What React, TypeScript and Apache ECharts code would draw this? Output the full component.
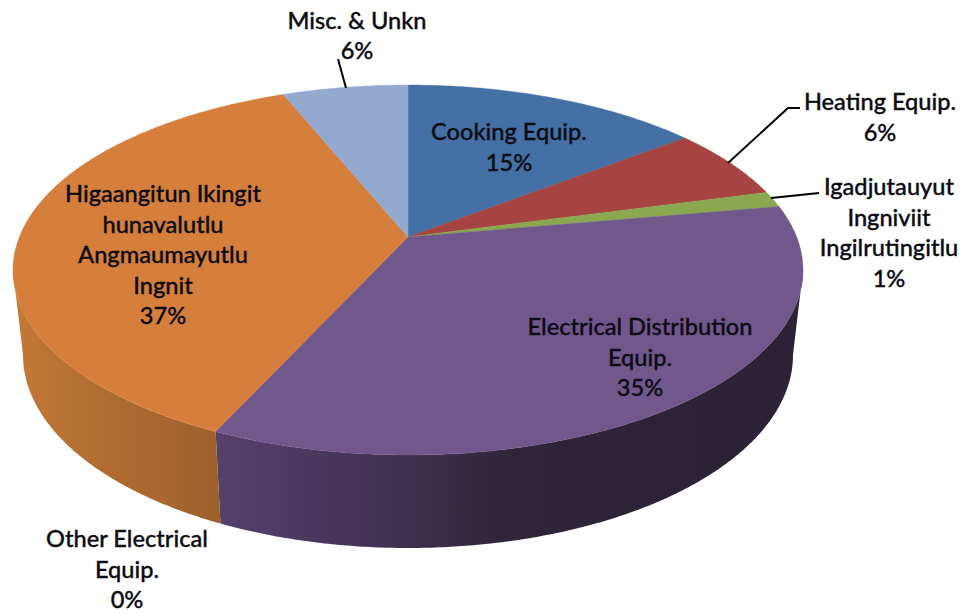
import React, { useEffect, useRef } from "react";
import * as echarts from "echarts";

const sliceNames = [
  "Cooking Equip.",
  "Heating Equip.",
  "Igadjutauyut\nIngniviit\nIngilrutingitlu",
  "Electrical Distribution\nEquip.",
  "Other Electrical\nEquip.",
  "Higaangitun Ikingit\nhunavalutlu\nAngmaumayutlu\nIngnit",
  "Misc. & Unkn",
];
const sliceValues = [14.5, 6.3, 1.4, 34.6, 0, 37.1, 6.1];
const percentLabels = ["15%", "6%", "1%", "35%", "0%", "37%", "6%"];
const topColors = ["#4470A6", "#A54440", "#8AA84D", "#71588C", "#4198AF", "#D67F3C", "#93A9CF"];
const wallStops: (string[] | null)[] = [
  null,
  null,
  null,
  ["#55416C", "#433456", "#2F2539", "#2C2338", "#2B2236"],
  null,
  ["#C47836", "#B87233", "#AD6B2F", "#A7672E", "#9C602B"],
  null,
];
const labelCenters = [
  [509, 146.5],
  [880, 116.5],
  [889, 232],
  [640, 356.5],
  [127, 568.5],
  [163, 254],
  [357, 35],
];
const LINE_GAP = 30.5;
const leaderLines = [
  [[728, 163], [788, 108], [800, 108]],
  [[771, 198], [819, 193]],
  [[338, 59], [346, 88]],
];

// Geometry of the tilted pie
const TOP = { cx: 408, cy: 270, rx: 395, ry: 185 };
const BOTTOM = { cx: 408, cy: 355, rx: 385, ry: 193 };
const APEX = { x: 408, y: 237 };
const K = 0.178;
const A = 388.7;
const B = 179;

const total = sliceValues.reduce((s, v) => s + v, 0);

// Pie angle (clockwise from 12 o'clock) => point on the top face's rim, in perspective
function rimParam(theta: number): number {
  const X = Math.sin(theta);
  const Y = Math.cos(theta);
  const w = 1 + K * Y;
  const x = APEX.x + (A * X) / w;
  const y = APEX.y - (B * Y) / w;
  let t = Math.atan2((y - TOP.cy) / TOP.ry, (x - TOP.cx) / TOP.rx);
  if (t < -Math.PI / 2 - 1e-6) t += Math.PI * 2;
  if (theta > Math.PI * 1.5 && t < 0) t += Math.PI * 2;
  return t;
}
function ell(e: typeof TOP, t: number): number[] {
  return [e.cx + e.rx * Math.cos(t), e.cy + e.ry * Math.sin(t)];
}
function span(index: number): [number, number] {
  let before = 0;
  for (let i = 0; i < index; i++) before += sliceValues[i];
  const a = (before / total) * Math.PI * 2;
  const b = ((before + sliceValues[index]) / total) * Math.PI * 2;
  return [rimParam(a), rimParam(b)];
}
function samples(a: number, b: number): number[] {
  const n = Math.max(2, Math.ceil((b - a) / 0.01));
  const out: number[] = [];
  for (let i = 0; i <= n; i++) out.push(a + ((b - a) * i) / n);
  return out;
}

export default function App() {
  const ref = useRef<HTMLDivElement>(null);
  useEffect(() => {
    const chart = echarts.init(ref.current!, null, { renderer: "svg" });
    const data = sliceValues.map((v, i) => ({ name: sliceNames[i], value: [i, v] }));

    const graphics: any[] = [];
    leaderLines.forEach((pts) => {
      graphics.push({
        type: "polyline",
        shape: { points: pts },
        style: { stroke: "#000", lineWidth: 2, fill: "none" },
        z: 10,
      });
    });
    sliceNames.forEach((name, i) => {
      const lines = `${name}\n${percentLabels[i]}`.split("\n");
      lines.forEach((line, k) => {
        graphics.push({
          type: "text",
          x: labelCenters[i][0],
          y: labelCenters[i][1] + (k - (lines.length - 1) / 2) * LINE_GAP,
          z: 11,
          style: {
            text: line,
            fill: "#0c0c14",
            stroke: "#0c0c14",
            lineWidth: 0.35,
            font: '500 23.6px Lato, "Noto Sans", sans-serif',
            lineHeight: 24,
            align: "center",
            verticalAlign: "middle",
          },
        });
      });
    });

    chart.setOption({
      animation: false,
      backgroundColor: "#fff",
      graphic: graphics,
      series: [
        {
          type: "custom",
          name: "Side",
          coordinateSystem: "none",
          silent: true,
          data,
          z: 1,
          renderItem: (_p: any, api: any) => {
            const i = api.value(0);
            const stops = wallStops[i];
            if (!stops || api.value(1) === 0) return { type: "group", children: [] };
            const [a0, b0] = span(i);
            const a = Math.max(a0, 0);
            const b = Math.min(b0, Math.PI);
            if (b <= a) return { type: "group", children: [] };
            const ts = samples(a, b);
            const points = [
              ...ts.map((t) => ell(TOP, t)),
              ...ts.slice().reverse().map((t) => ell(BOTTOM, t)),
            ];
            return {
              type: "polygon",
              shape: { points },
              style: {
                fill: new echarts.graphic.LinearGradient(
                  0, 0, 1, 0,
                  stops.map((color, k) => ({ offset: k / (stops.length - 1), color }))
                ),
              },
            };
          },
        },
        {
          type: "custom",
          name: "Top",
          coordinateSystem: "none",
          silent: true,
          data,
          z: 2,
          renderItem: (_p: any, api: any) => {
            const i = api.value(0);
            if (api.value(1) === 0) return { type: "group", children: [] };
            const [a, b] = span(i);
            const points = [[APEX.x, APEX.y], ...samples(a, b).map((t) => ell(TOP, t))];
            return {
              type: "polygon",
              shape: { points },
              style: { fill: topColors[i], stroke: topColors[i], lineWidth: 0.4 },
            };
          },
        },
      ],
    });
    return () => chart.dispose();
  }, []);
  return <div ref={ref} style={{ position: "fixed", left: 0, top: 0, width: 968, height: 613 }} />;
}
